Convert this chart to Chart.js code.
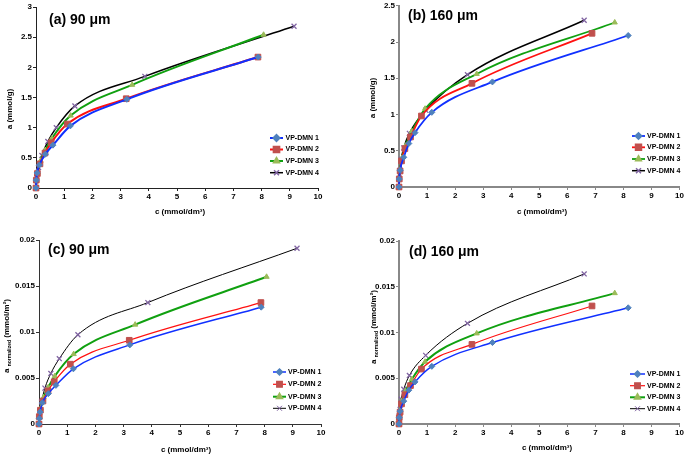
<!DOCTYPE html>
<html>
<head>
<meta charset="utf-8">
<script src="https://cdn.jsdelivr.net/npm/chart.js@4.4.1/dist/chart.umd.min.js"></script>
<style>
  body { margin: 0; background: #fff; width: 685px; height: 455px; overflow: hidden; position: relative; }
  canvas { position: absolute; }
</style>
</head>
<body>
<canvas id="pa" width="342" height="225" style="left:0;top:0"></canvas>
<canvas id="pb" width="343" height="225" style="left:342px;top:0"></canvas>
<canvas id="pc" width="342" height="230" style="left:0;top:225px"></canvas>
<canvas id="pd" width="343" height="230" style="left:342px;top:225px"></canvas>
<script>
// labels
var seriesNames = ["VP-DMN 1", "VP-DMN 2", "VP-DMN 3", "VP-DMN 4"];
var xTicks = ["0", "1", "2", "3", "4", "5", "6", "7", "8", "9", "10"];
var yTicksA = ["0", "0.5", "1", "1.5", "2", "2.5", "3"];
var yTicksB = ["0", "0.5", "1", "1.5", "2", "2.5"];
var yTicksN = ["0", "0.005", "0.01", "0.015", "0.02"];

// 90 um : c (mmol/dm3), a (mmol/g), a normalized (mmol/m2)
var c90_1 = [0, 0.01, 0.04, 0.12, 0.33, 0.6, 1.22, 3.22, 7.88];
var a90_1 = [0, 0.13, 0.25, 0.38, 0.56, 0.71, 1.03, 1.47, 2.17];
var n90_1 = [0, 0.0006, 0.0013, 0.0023, 0.0033, 0.0042, 0.006, 0.0086, 0.0127];

var c90_2 = [0, 0.01, 0.05, 0.14, 0.32, 0.54, 1.11, 3.2, 7.87];
var a90_2 = [0, 0.13, 0.24, 0.4, 0.58, 0.75, 1.06, 1.48, 2.17];
var n90_2 = [0, 0.0008, 0.0015, 0.0025, 0.0036, 0.0046, 0.0065, 0.0091, 0.0132];

var c90_3 = [0, 0.02, 0.06, 0.16, 0.33, 0.56, 1.23, 3.41, 8.07];
var a90_3 = [0, 0.13, 0.26, 0.45, 0.63, 0.82, 1.2, 1.71, 2.54];
var n90_3 = [0, 0.0008, 0.0017, 0.0029, 0.004, 0.0052, 0.0076, 0.0108, 0.016];

var c90_4 = [0, 0.03, 0.09, 0.21, 0.42, 0.72, 1.38, 3.86, 9.15];
var a90_4 = [0, 0.18, 0.34, 0.54, 0.77, 1.0, 1.36, 1.85, 2.68];
var n90_4 = [0, 0.0013, 0.0024, 0.0039, 0.0055, 0.0071, 0.0097, 0.0132, 0.0191];

// 160 um
var c160_1 = [0, 0.01, 0.04, 0.17, 0.35, 0.57, 1.17, 3.33, 8.17];
var a160_1 = [0, 0.11, 0.23, 0.41, 0.6, 0.75, 1.03, 1.45, 2.09];
var n160_1 = [0, 0.0007, 0.0014, 0.0025, 0.0037, 0.0046, 0.0063, 0.0089, 0.0127];

var c160_2 = [0, 0.01, 0.04, 0.09, 0.21, 0.41, 0.8, 2.6, 6.88];
var a160_2 = [0, 0.11, 0.22, 0.36, 0.53, 0.69, 0.98, 1.43, 2.12];
var n160_2 = [0, 0.0007, 0.0013, 0.0022, 0.0032, 0.0042, 0.006, 0.0087, 0.0129];

var c160_3 = [0, 0.01, 0.04, 0.1, 0.23, 0.46, 0.93, 2.77, 7.69];
var a160_3 = [0, 0.12, 0.24, 0.4, 0.57, 0.77, 1.08, 1.56, 2.27];
var n160_3 = [0, 0.0008, 0.0015, 0.0025, 0.0036, 0.0049, 0.0068, 0.0099, 0.0143];

var c160_4 = [0, 0.01, 0.04, 0.08, 0.17, 0.37, 0.95, 2.44, 6.6];
var a160_4 = [0, 0.12, 0.23, 0.38, 0.54, 0.74, 1.06, 1.55, 2.3];
var n160_4 = [0, 0.0009, 0.0016, 0.0027, 0.0038, 0.0053, 0.0075, 0.011, 0.0164];

var lineColors = ["#1030ff", "#ff1010", "#10a010", "#000000"];
var markerColors = ["#4f81bd", "#c0504d", "#9bbb59", "#8064a2"];
var markerStyles = ["rectRot", "rect", "triangle", "crossRot"];
var markerSizes = [3, 4, 3, 3.5];
var FONT = "'Liberation Sans', Arial, sans-serif";

function xy(c, a) {
  return c.map(function (v, i) { return { x: v, y: a[i] }; });
}

var textPlugin = {
  id: "panelText",
  afterDraw: function (chart) {
    var p = chart.options.plugins.panelText;
    var ctx = chart.ctx;
    ctx.save();
    ctx.fillStyle = "#000";
    // panel label
    ctx.font = "bold 14px " + FONT;
    ctx.textAlign = "left";
    ctx.textBaseline = "alphabetic";
    ctx.fillText(p.label, p.labelX, p.labelY);
    // x title
    ctx.font = "bold 8px " + FONT;
    ctx.textAlign = "center";
    ctx.textBaseline = "middle";
    ctx.fillText("c (mmol/dm\u00b3)", p.xtX, p.xtY);
    // y title (parts, rotated)
    ctx.save();
    ctx.translate(p.ytX, p.ytY);
    ctx.rotate(-Math.PI / 2);
    var total = 0;
    p.ytParts.forEach(function (t) {
      ctx.font = "bold " + t.size + "px " + FONT;
      total += ctx.measureText(t.text).width;
    });
    var x = -total / 2;
    ctx.textAlign = "left";
    p.ytParts.forEach(function (t) {
      ctx.font = "bold " + t.size + "px " + FONT;
      ctx.fillText(t.text, x, t.dy || 0);
      x += ctx.measureText(t.text).width;
    });
    ctx.restore();
    // legend
    var L = p.legend;
    chart.data.datasets.forEach(function (ds, i) {
      var y = L.ys[i];
      ctx.strokeStyle = ds.borderColor;
      ctx.lineWidth = ds.borderWidth;
      ctx.beginPath();
      ctx.moveTo(L.x1, y);
      ctx.lineTo(L.x2, y);
      ctx.stroke();
      ctx.fillStyle = ds.pointBackgroundColor;
      ctx.strokeStyle = ds.pointBorderColor;
      Chart.helpers.drawPoint(ctx, {
        pointStyle: ds.pointStyle, radius: ds.pointRadius,
        borderWidth: ds.pointBorderWidth, rotation: 0
      }, (L.x1 + L.x2) / 2, y);
      ctx.fillStyle = "#000";
      ctx.font = "bold 7px " + FONT;
      ctx.textAlign = "left";
      ctx.textBaseline = "middle";
      ctx.fillText(ds.label, L.tx, y);
    });
    ctx.restore();
  }
};

function makePanel(id, p) {
  var datasets = p.series.map(function (s, i) {
    return {
      label: seriesNames[i],
      data: xy(s[0], s[1]),
      borderColor: lineColors[i],
      borderWidth: p.lineWidths[i],
      pointStyle: markerStyles[i],
      pointRadius: markerSizes[i],
      pointBackgroundColor: markerColors[i],
      pointBorderColor: markerColors[i],
      pointBorderWidth: i == 3 ? 1.3 : 1,
      cubicInterpolationMode: "monotone",
      fill: false,
      clip: false
    };
  });
  var tickFont = { family: FONT, size: 8, weight: "bold" };
  new Chart(document.getElementById(id), {
    type: "line",
    data: { datasets: datasets },
    plugins: [textPlugin],
    options: {
      responsive: false,
      animation: false,
      devicePixelRatio: 1,
      layout: { padding: { left: 0, top: p.area.t, right: p.W - p.area.r, bottom: 0 } },
      plugins: { legend: { display: false }, tooltip: { enabled: false }, panelText: p.text },
      scales: {
        x: {
          type: "linear", min: 0, max: 10,
          ticks: { stepSize: 1, font: tickFont, color: "#000", padding: 1, maxRotation: 0, autoSkip: false,
            callback: function (v) { return xTicks[Math.round(v)]; } },
          grid: { drawOnChartArea: false, tickLength: 3, color: p.axisColor },
          border: { color: p.axisColor, width: p.axisWidth },
          afterFit: function (s) { s.height = p.H - p.area.b; }
        },
        y: {
          type: "linear", min: 0, max: p.yMax,
          ticks: { stepSize: p.yStep, font: tickFont, color: "#000", padding: 1,
            callback: function (v) { return p.yTicks[Math.round(v / p.yStep)]; } },
          grid: { drawOnChartArea: false, tickLength: 3, color: p.axisColor },
          border: { color: p.axisColor, width: p.axisWidth },
          afterFit: function (s) { s.width = p.area.l; }
        }
      }
    }
  });
}

var titleA = [{ text: "a (mmol/g)", size: 8 }];
var titleN = [{ text: "a ", size: 8 }, { text: "normalized", size: 5, dy: 2.5 }, { text: " (mmol/m\u00b2)", size: 8 }];

makePanel("pa", {
  series: [[c90_1, a90_1], [c90_2, a90_2], [c90_3, a90_3], [c90_4, a90_4]],
  lineWidths: [2, 2, 2, 1.5],
  yMax: 3, yStep: 0.5, yTicks: yTicksA,
  W: 342, H: 225, area: { l: 36, r: 318, t: 7, b: 188 },
  axisColor: "#222", axisWidth: 1,
  text: { label: "(a) 90 \u03bcm", labelX: 49, labelY: 24, xtX: 180, xtY: 212, ytX: 10, ytY: 109, ytParts: titleA,
    legend: { x1: 270, x2: 283, tx: 285.5, ys: [138, 149.5, 161, 172.7] } }
});

makePanel("pb", {
  series: [[c160_1, a160_1], [c160_2, a160_2], [c160_3, a160_3], [c160_4, a160_4]],
  lineWidths: [1.8, 1.8, 1.8, 1.5],
  yMax: 2.5, yStep: 0.5, yTicks: yTicksB,
  W: 343, H: 225, area: { l: 57, r: 338, t: 4, b: 187 },
  axisColor: "#888", axisWidth: 2,
  text: { label: "(b) 160 \u03bcm", labelX: 66, labelY: 20, xtX: 200, xtY: 212, ytX: 31, ytY: 98, ytParts: titleA,
    legend: { x1: 290, x2: 303, tx: 305, ys: [136, 147.3, 159, 170.7] } }
});

makePanel("pc", {
  series: [[c90_1, n90_1], [c90_2, n90_2], [c90_3, n90_3], [c90_4, n90_4]],
  lineWidths: [1.5, 1.2, 2, 1],
  yMax: 0.02, yStep: 0.005, yTicks: yTicksN,
  W: 342, H: 230, area: { l: 39, r: 321, t: 15, b: 199 },
  axisColor: "#333", axisWidth: 1,
  text: { label: "(c) 90 \u03bcm", labelX: 48, labelY: 29, xtX: 186, xtY: 225, ytX: 7, ytY: 111, ytParts: titleN,
    legend: { x1: 273, x2: 286, tx: 288, ys: [147, 159.3, 171.7, 183.3] } }
});

makePanel("pd", {
  series: [[c160_1, n160_1], [c160_2, n160_2], [c160_3, n160_3], [c160_4, n160_4]],
  lineWidths: [1.5, 1.2, 2, 1],
  yMax: 0.02, yStep: 0.005, yTicks: yTicksN,
  W: 343, H: 230, area: { l: 57, r: 338, t: 16, b: 199 },
  axisColor: "#888", axisWidth: 2,
  text: { label: "(d) 160 \u03bcm", labelX: 67, labelY: 31, xtX: 205, xtY: 223, ytX: 32, ytY: 102, ytParts: titleN,
    legend: { x1: 288, x2: 303, tx: 305, ys: [149, 160.7, 172.3, 183.7] } }
});
</script>
</body>
</html>
